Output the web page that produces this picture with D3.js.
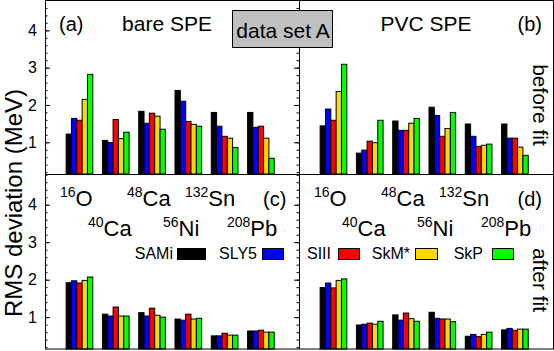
<!DOCTYPE html>
<html><head><meta charset="utf-8">
<script src="https://cdn.jsdelivr.net/npm/d3@7"></script>
<style>body{margin:0;background:#fff}svg{display:block}text{font-family:"Liberation Sans",Arial,sans-serif;fill:#000}</style>
</head><body><svg id="c" width="554" height="351"></svg>
<script>
const nucleiMass = ["16","40","48","56","132","208"];
const nucleiSym = ["O","Ca","Ca","Ni","Sn","Pb"];
const forces = ["SAMi","SLY5","SIII","SkM*","SkP"];
const forceColors = ["#000000","#0000ff","#ff0000","#ffd700","#00ff00"];
const yTicks = [1,2,3,4];
// rows: nuclei, columns: forces
const bareBefore = [[1.22,1.64,1.59,2.15,2.82],[1.05,0.99,1.61,1.10,1.27],[1.83,1.51,1.78,1.70,1.35],[2.39,2.10,1.56,1.48,1.43],[1.80,1.43,1.16,1.11,0.86],[1.80,1.40,1.43,1.11,0.57]];
const pvcBefore = [[1.44,1.89,1.59,2.36,3.09],[0.71,0.79,1.03,0.99,1.59],[1.57,1.32,1.32,1.51,1.64],[1.94,1.72,1.16,1.37,1.80],[1.49,1.16,0.89,0.92,0.95],[1.49,1.11,1.11,0.87,0.65]];
const bareAfter = [[1.92,1.97,1.91,1.98,2.07],[1.08,1.03,1.27,1.03,1.03],[1.12,1.03,1.24,1.05,1.00],[0.95,0.92,1.08,0.95,0.97],[0.50,0.50,0.57,0.52,0.52],[0.63,0.63,0.65,0.60,0.60]];
const pvcAfter = [[1.79,1.91,1.78,1.98,2.02],[0.79,0.81,0.84,0.81,0.89],[1.06,0.92,1.11,0.96,0.89],[1.13,0.97,0.95,0.95,0.88],[0.49,0.54,0.48,0.54,0.60],[0.66,0.70,0.65,0.68,0.68]];

const svg = d3.select("#c");
const L = 45, M = 299, R = 553, T = 0.5, MID = 174, B = 349;
const panels = [
  {data: bareBefore, x0: L, x1: M, y0: T, y1: MID, top: true},
  {data: pvcBefore, x0: M, x1: R, y0: T, y1: MID, top: true},
  {data: bareAfter, x0: L, x1: M, y0: MID, y1: B, top: false},
  {data: pvcAfter, x0: M, x1: R, y0: MID, y1: B, top: false}
];
const barW = 0.147;
panels.forEach((p, pi) => {
  const x = d3.scaleLinear().domain([0.05, 7.05]).range([p.x0, p.x1]);
  const y = d3.scaleLinear().domain(p.top ? [0.15, 4.8] : [0.15, 4.82]).range([p.y1, p.y0]);
  const g = svg.append("g");
  p.data.forEach((row, ni) => {
    row.forEach((v, fi) => {
      const cx = ni + 1 + (fi - 2) * barW;
      g.append("rect")
        .attr("x", x(cx - barW/2)).attr("width", x(barW) - x(0))
        .attr("y", y(v)).attr("height", y(y.domain()[0]) - y(v))
        .attr("fill", forceColors[fi]).attr("stroke", "#000").attr("stroke-width", 1);
    });
  });
  if (pi === 0 || pi === 2) {
    const minor = d3.range(0.2, 4.81, 0.2).map(v => +v.toFixed(1)).filter(v => v > y.domain()[0] && v < y.domain()[1]);
    const ax = d3.axisLeft(y).tickValues(minor).tickSize(-2.5).tickFormat("");
    svg.append("g").attr("transform", `translate(${L},0)`).call(ax).call(s => s.select(".domain").remove());
    const axM = d3.axisLeft(y).tickValues(yTicks).tickSize(-5).tickPadding(8).tickFormat(d3.format("d"));
    svg.append("g").attr("transform", `translate(${L},0)`).call(axM)
      .call(s => s.select(".domain").remove())
      .call(s => s.selectAll("text").attr("font-size", 16).attr("font-family", "Liberation Sans, Arial, sans-serif"));
    const axR = d3.axisRight(y).tickValues(minor).tickSize(-2.5).tickFormat("");
    svg.append("g").attr("transform", `translate(${M},0)`).call(axR).call(s => s.select(".domain").remove());
    const axR2 = d3.axisRight(y).tickValues(yTicks).tickSize(-5).tickFormat("");
    svg.append("g").attr("transform", `translate(${M},0)`).call(axR2).call(s => s.select(".domain").remove());
  }
});
// frames
const fr = svg.append("g").attr("stroke", "#000").attr("stroke-width", 1).attr("fill", "none");
fr.append("rect").attr("x", L + 0.5).attr("y", T).attr("width", R - L).attr("height", B - T);
fr.append("line").attr("x1", M + 0.5).attr("x2", M + 0.5).attr("y1", T).attr("y2", B);
fr.append("line").attr("x1", L).attr("x2", R).attr("y1", MID + 0.5).attr("y2", MID + 0.5);

const txt = (x, y, s, size, anchor) => svg.append("text").attr("x", x).attr("y", y).attr("font-size", size).attr("text-anchor", anchor || "start").text(s);
txt(59, 31, "(a)", 20);
txt(167, 31, "bare SPE", 21, "middle");
txt(426, 31, "PVC SPE", 21, "middle");
txt(542, 31, "(b)", 20, "end");
txt(263, 206, "(c)", 20);
txt(542, 206, "(d)", 20, "end");
svg.append("rect").attr("x", 232.5).attr("y", 10.5).attr("width", 100).attr("height", 37).attr("fill", "#c0c0c0").attr("stroke", "#000");
txt(283, 38, "data set A", 21, "middle");
svg.append("text").attr("transform", "translate(533,105) rotate(90)").attr("text-anchor", "middle").attr("font-size", 21).text("before fit");
svg.append("text").attr("transform", "translate(533,280) rotate(90)").attr("text-anchor", "middle").attr("font-size", 21).text("after fit");
svg.append("text").attr("transform", "translate(22,203) rotate(-90)").attr("text-anchor", "middle").attr("font-size", 24).text("RMS deviation (MeV)");

const nucPos = [[60,206],[88,236],[127,206],[163,236],[185,206],[227,236]];
[0, 254].forEach(off => {
  nucleiMass.forEach((m, i) => {
    const t = svg.append("text").attr("x", nucPos[i][0] + off).attr("y", nucPos[i][1]).attr("font-size", 22);
    t.append("tspan").attr("font-size", 14).attr("dy", -9).text(m);
    t.append("tspan").attr("dy", 9).text(nucleiSym[i]);
  });
});
const legPos = [[173,177,28],[257,262,21],[331,338,21],[410,415,22],[483,492,21]];
forces.forEach((f, i) => {
  txt(legPos[i][0], 259, f, 16, "end");
  svg.append("rect").attr("x", legPos[i][1] + 0.5).attr("y", 248.5).attr("width", legPos[i][2]).attr("height", 11)
    .attr("fill", forceColors[i]).attr("stroke", "#000");
});
</script></body></html>
